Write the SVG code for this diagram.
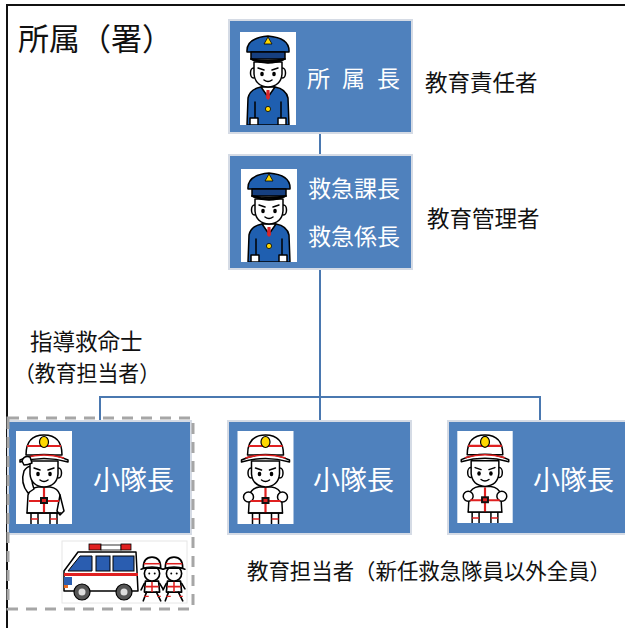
<svg xmlns="http://www.w3.org/2000/svg" width="625" height="628" viewBox="0 0 625 628">
  <style>
    .box { fill: #4f81bd; stroke: #d5dbe5; stroke-width: 2; }
    .pic { fill: #ffffff; }
    .wtext { fill: #ffffff; font-family: "Noto Sans CJK JP", "Noto Sans", sans-serif; }
    .btext { fill: #111111; font-family: "Noto Sans CJK JP", "Noto Sans", sans-serif; }
    .conn { fill: none; stroke: #4a78b0; stroke-width: 2; }
    .ln { stroke: #000; stroke-width: 1.5; stroke-linejoin: round; stroke-linecap: round; }
  </style>
  <defs>
    <!-- police-style officer, 56 x 93 -->
    <symbol id="officer" viewBox="0 0 56 93">
      <rect width="56" height="93" fill="#fff"/>
      <path class="ln" d="M8,66 Q10,57 21,55 L35,55 Q46,57 48,66 L49,93 L7,93 Z" fill="#1f5fb0"/>
      <path class="ln" d="M21,55 L28,65 L35,55 Z" fill="#fff"/>
      <path d="M26.5,58 L29.5,58 L30,66 L28,68 L26,66 Z" fill="#d8262b"/>
      <circle cx="28" cy="77" r="2.6" fill="#ffd800" stroke="#000" stroke-width="0.8"/>
      <path class="ln" d="M15,70 L15,93 M41,70 L41,93" fill="none"/>
      <rect class="ln" x="10" y="86" width="8" height="7" fill="#fff"/>
      <rect class="ln" x="38" y="86" width="8" height="7" fill="#fff"/>
      <ellipse class="ln" cx="13.5" cy="41" rx="3" ry="5" fill="#fff"/>
      <ellipse class="ln" cx="42.5" cy="41" rx="3" ry="5" fill="#fff"/>
      <path class="ln" d="M14,30 L14,42 Q15,54 28,55 Q41,54 42,42 L42,30 Z" fill="#fff"/>
      <path class="ln" d="M18,36 L24,38 M38,36 L32,38" fill="none"/>
      <ellipse cx="22" cy="42" rx="1.8" ry="2.3" fill="#000"/>
      <ellipse cx="34" cy="42" rx="1.8" ry="2.3" fill="#000"/>
      <path class="ln" d="M24,48 Q28,51 32,48" fill="none"/>
      <path class="ln" d="M7,20 Q6,6 28,4 Q50,6 49,20 Z" fill="#1f5fb0"/>
      <rect class="ln" x="11" y="20" width="34" height="7" fill="#163f80"/>
      <path class="ln" d="M11,27 Q28,34 45,27 Q28,30 11,27 Z" fill="#111"/>
      <path d="M24,12 L28,5 L32,12 Z" fill="#ffd800" stroke="#000" stroke-width="0.8"/>
      <path class="ln" d="M11,27 Q28,35 45,27" fill="none"/>
    </symbol>

    <!-- rescue crew member, 56 x 93 -->
    <symbol id="crew" viewBox="0 0 56 93">
      <rect width="56" height="93" fill="#fff"/>
      <path class="ln" d="M12,64 Q14,57 22,56 L34,56 Q42,57 44,64 L45,82 L11,82 Z" fill="#fff"/>
      <circle class="ln" cx="11" cy="66" r="5" fill="#fff"/>
      <circle class="ln" cx="45" cy="66" r="5" fill="#fff"/>
      <path d="M28,57 L28,82 M13,70 L43,70" stroke="#e02020" stroke-width="2.2"/>
      <rect x="24" y="66" width="8" height="7" fill="#111"/>
      <rect x="26" y="68" width="4" height="3" fill="#e02020"/>
      <path class="ln" d="M15,82 L15,93 M22,82 L22,93 M34,82 L34,93 M41,82 L41,93 M11,82 L45,82" fill="none"/>
      <path d="M15,88 L22,88 M34,88 L41,88" stroke="#e02020" stroke-width="1.5"/>
      <ellipse class="ln" cx="13.5" cy="42" rx="3" ry="5" fill="#fff"/>
      <ellipse class="ln" cx="42.5" cy="42" rx="3" ry="5" fill="#fff"/>
      <path class="ln" d="M14,30 L14,43 Q15,55 28,56 Q41,55 42,43 L42,30 Z" fill="#fff"/>
      <path class="ln" d="M18,37 L24,39 M38,37 L32,39" fill="none"/>
      <ellipse cx="22" cy="43" rx="1.8" ry="2.3" fill="#000"/>
      <ellipse cx="34" cy="43" rx="1.8" ry="2.3" fill="#000"/>
      <path class="ln" d="M24,49 Q28,52 32,49" fill="none"/>
      <path class="ln" d="M10,24 Q10,4 28,4 Q46,4 46,24 Z" fill="#fff"/>
      <path d="M11,15 L45,15" stroke="#e02020" stroke-width="2.2"/>
      <ellipse cx="28" cy="11" rx="4.5" ry="5.5" fill="#ffd800" stroke="#000" stroke-width="1.2"/>
      <path class="ln" d="M4,29 Q28,18 52,29 L52,31 Q28,24 4,31 Z" fill="#fff"/>
      <path d="M8,27 Q28,21 48,27" stroke="#e02020" stroke-width="1.6" fill="none"/>
    </symbol>

    <!-- rescue crew member saluting, 56 x 93 -->
    <symbol id="crewSalute" viewBox="0 0 56 93">
      <rect width="56" height="93" fill="#fff"/>
      <path class="ln" d="M12,64 Q14,57 22,56 L34,56 Q42,57 44,64 L45,82 L11,82 Z" fill="#fff"/>
      <path class="ln" d="M12,62 Q4,52 8,40 Q12,34 16,36 L18,40 Q14,48 18,58 Z" fill="#fff"/>
      <path class="ln" d="M44,64 L48,80 L44,84 L41,80 Z" fill="#fff"/>
      <path d="M28,57 L28,82 M13,70 L43,70" stroke="#e02020" stroke-width="2.2"/>
      <rect x="24" y="66" width="8" height="7" fill="#111"/>
      <rect x="26" y="68" width="4" height="3" fill="#e02020"/>
      <path class="ln" d="M15,82 L15,93 M22,82 L22,93 M34,82 L34,93 M41,82 L41,93 M11,82 L45,82" fill="none"/>
      <path d="M15,88 L22,88 M34,88 L41,88" stroke="#e02020" stroke-width="1.5"/>
      <ellipse class="ln" cx="42.5" cy="42" rx="3" ry="5" fill="#fff"/>
      <path class="ln" d="M14,30 L14,43 Q15,55 28,56 Q41,55 42,43 L42,30 Z" fill="#fff"/>
      <path class="ln" d="M18,37 L24,39 M38,37 L32,39" fill="none"/>
      <ellipse cx="22" cy="43" rx="1.8" ry="2.3" fill="#000"/>
      <ellipse cx="34" cy="43" rx="1.8" ry="2.3" fill="#000"/>
      <path class="ln" d="M24,49 Q28,52 32,49" fill="none"/>
      <path class="ln" d="M10,24 Q10,4 28,4 Q46,4 46,24 Z" fill="#fff"/>
      <path d="M11,15 L45,15" stroke="#e02020" stroke-width="2.2"/>
      <ellipse cx="28" cy="11" rx="4.5" ry="5.5" fill="#ffd800" stroke="#000" stroke-width="1.2"/>
      <path class="ln" d="M4,29 Q28,18 52,29 L52,31 Q28,24 4,31 Z" fill="#fff"/>
      <path d="M8,27 Q28,21 48,27" stroke="#e02020" stroke-width="1.6" fill="none"/>
      <path class="ln" d="M6,30 Q8,24 14,26 L16,32 Q12,34 8,34 Z" fill="#fff"/>
    </symbol>

    <!-- small running crew figure, 22 x 44 -->
    <symbol id="runner" viewBox="0 0 22 44">
      <path class="ln" d="M5,24 L17,24 L18,34 L4,34 Z" fill="#fff" stroke-width="1"/>
      <path d="M11,24 L11,34 M5,29 L17,29" stroke="#e02020" stroke-width="1.4"/>
      <path class="ln" d="M6,34 L3,42 M15,34 L19,42" fill="none" stroke-width="1.2"/>
      <path d="M4,38 L8,38 M16,38 L19,38" stroke="#e02020" stroke-width="1.2"/>
      <path class="ln" d="M4,26 L1,32 M18,26 L21,31" fill="none" stroke-width="1"/>
      <ellipse class="ln" cx="11" cy="17" rx="7" ry="7" fill="#fff" stroke-width="1"/>
      <circle cx="8.5" cy="17" r="0.9" fill="#000"/>
      <circle cx="13.5" cy="17" r="0.9" fill="#000"/>
      <path class="ln" d="M3,12 Q3,2 11,2 Q19,2 19,12 Z" fill="#fff" stroke-width="1"/>
      <path d="M3.5,8 L18.5,8" stroke="#e02020" stroke-width="1.4"/>
      <path class="ln" d="M1,13 Q11,9 21,13" fill="none" stroke-width="1"/>
    </symbol>
  </defs>

  <rect width="625" height="628" fill="#ffffff"/>

  <!-- section frame -->
  <path d="M7,640 L7,5 L640,5" fill="none" stroke="#111" stroke-width="2"/>
  <text class="btext" x="18" y="50" font-size="31">所属（署）</text>

  <!-- connectors -->
  <g id="connectors">
    <path class="conn" d="M320,133 L320,155"/>
    <path class="conn" d="M320,269 L320,421"/>
    <path class="conn" d="M100,420 L100,397 L540,397 L540,421"/>
  </g>

  <!-- head of station -->
  <g id="node-chief">
    <rect class="box" x="229" y="20" width="183" height="113"/>
    <use href="#officer" x="240" y="32" width="56" height="93"/>
    <text class="wtext" x="307" y="87" font-size="23" letter-spacing="12">所属長</text>
  </g>
  <text class="btext" x="425" y="91" font-size="22.5">教育責任者</text>

  <!-- EMS section managers -->
  <g id="node-managers">
    <rect class="box" x="229" y="155" width="183" height="114"/>
    <use href="#officer" x="241" y="169" width="56" height="93"/>
    <text class="wtext" x="308" y="197" font-size="23">救急課長</text>
    <text class="wtext" x="308" y="245" font-size="23">救急係長</text>
  </g>
  <text class="btext" x="427" y="227" font-size="22.5">教育管理者</text>

  <!-- instructor paramedic label -->
  <text class="btext" x="30" y="350" font-size="22.5">指導救命士</text>
  <text class="btext" x="14" y="381" font-size="22" textLength="146" lengthAdjust="spacingAndGlyphs">（教育担当者）</text>

  <!-- unit leader with ambulance crew -->
  <g id="node-leader-1">
    <rect class="box" x="8" y="421" width="183" height="113"/>
    <use href="#crewSalute" x="16" y="431" width="56" height="93"/>
    <text class="wtext" x="93" y="490" font-size="27">小隊長</text>
    <g id="ambulance" transform="translate(62,541)">
      <rect x="0" y="0" width="125" height="62" fill="#fff" stroke="#e6e6e6" stroke-width="1"/>
      <rect x="27" y="3" width="12" height="6" fill="#e02020" stroke="#000" stroke-width="0.8"/>
      <rect x="39" y="4" width="20" height="5" fill="#fff" stroke="#000" stroke-width="0.8"/>
      <rect x="59" y="3" width="10" height="6" fill="#e02020" stroke="#000" stroke-width="0.8"/>
      <path class="ln" d="M2,50 L2,30 L16,11 L74,11 L76,50 Z" fill="#fff"/>
      <path d="M6,30 L18,15 L30,15 L30,30 Z" fill="#2a5db0" stroke="#000" stroke-width="1"/>
      <rect x="34" y="15" width="14" height="15" fill="#2a5db0" stroke="#000" stroke-width="1"/>
      <rect x="51" y="15" width="21" height="15" fill="#2a5db0" stroke="#000" stroke-width="1"/>
      <rect x="2" y="32" width="74" height="3" fill="#e02020"/>
      <path d="M2,36 L2,44 L10,44 L10,36 Z" fill="#2a5db0"/>
      <rect x="2" y="44" width="4" height="3" fill="#e86a20"/>
      <circle cx="20" cy="51" r="8" fill="#555" stroke="#000" stroke-width="1.2"/>
      <circle cx="20" cy="51" r="3.5" fill="#ddd"/>
      <circle cx="62" cy="51" r="8" fill="#555" stroke="#000" stroke-width="1.2"/>
      <circle cx="62" cy="51" r="3.5" fill="#ddd"/>
      <use href="#runner" x="78" y="14" width="24" height="48"/>
      <use href="#runner" x="100" y="14" width="24" height="48"/>
    </g>
    <rect x="8" y="418" width="185" height="191" fill="none" stroke="#a6a6a6" stroke-width="3" stroke-dasharray="11 8"/>
  </g>

  <!-- unit leader (centre) -->
  <g id="node-leader-2">
    <rect class="box" x="228" y="421" width="183" height="113"/>
    <use href="#crew" x="237" y="431" width="57" height="93"/>
    <text class="wtext" x="313" y="490" font-size="27">小隊長</text>
  </g>

  <!-- unit leader (right) -->
  <g id="node-leader-3">
    <rect class="box" x="448" y="421" width="183" height="113"/>
    <use href="#crew" x="457" y="431" width="56" height="92"/>
    <text class="wtext" x="533" y="490" font-size="27">小隊長</text>
  </g>

  <text class="btext" x="247" y="579" font-size="21.5" textLength="364" lengthAdjust="spacingAndGlyphs">教育担当者（新任救急隊員以外全員）</text>
</svg>
